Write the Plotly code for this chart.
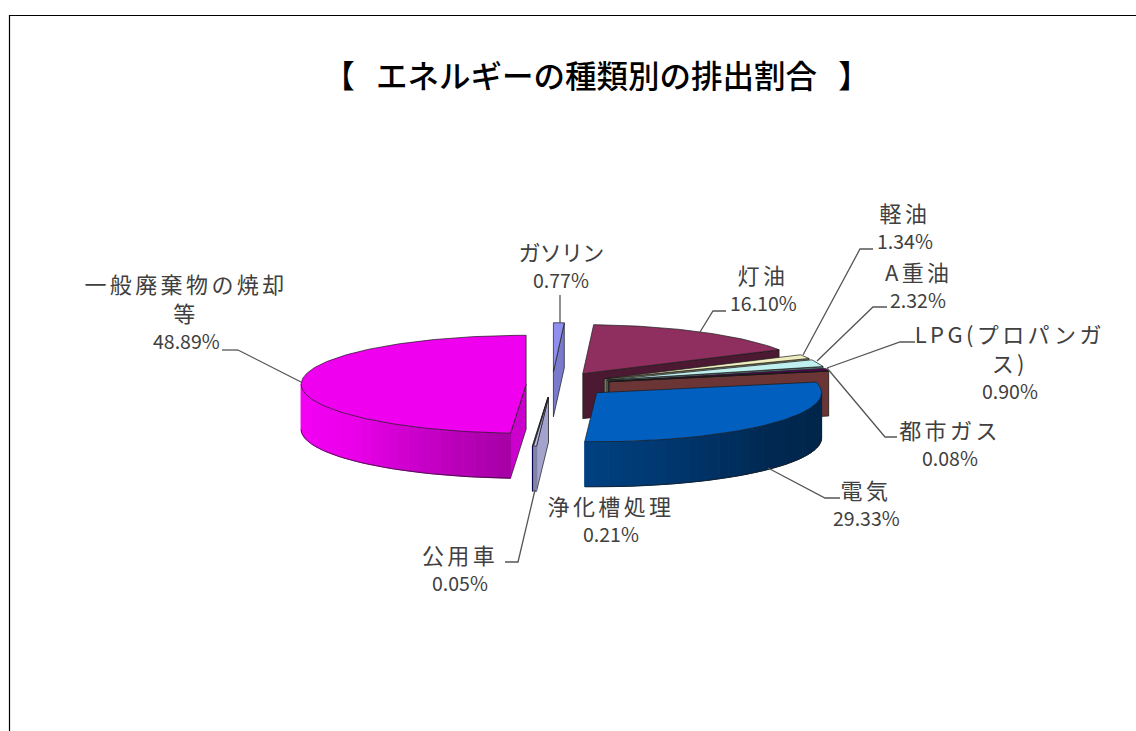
import numpy as np
import plotly.graph_objects as go

# ---- data (clockwise from 12 o'clock) ----
categories = ["ガソリン", "灯油", "軽油", "A重油", "LPG(プロパンガ<br>ス)", "都市ガス",
              "電気", "浄化槽処理", "公用車", "一般廃棄物の焼却<br>等"]
values = [0.77, 16.10, 1.34, 2.32, 0.90, 0.08, 29.33, 0.21, 0.05, 48.89]
colors = ["#9999FF", "#993366", "#FFFFCC", "#CCFFFF", "#660066", "#FF8080",
          "#0066CC", "#CCCCFF", "#000080", "#FF00FF"]
pull = [0.26, 0.26, 0.26, 0.26, 0.26, 0.26, 0.26, 0.26, 0.26, 0.115]
title_text = "【   エネルギーの種類別の排出割合   】"

# ---- layout constants (pixel-like axis units) ----
W, H = 1136, 731
CX, CY, RX, RY, DEPTH = 552, 384.5, 225, 49, 45
TOP_SHADE = 0.94
draw_order = [0, 1, 2, 3, 4, 5, 6, 8, 7, 9]
label_xy = [(561, 251), (763, 274), (905, 212), (918, 271), (1010, 333),
            (950, 429), (866, 489), (611, 505), (460, 554), (186, 283)]
LINE_STEP = 28.6
leaders = [
    [(560, 295), (560, 323)],
    [(726, 311), (713, 311), (700, 332)],
    [(873, 249), (860, 249), (803, 355)],
    [(887, 307), (873, 307), (817, 361)],
    [(915, 342), (900, 342), (827, 368)],
    [(897, 437), (885, 437), (827, 368)],
    [(840, 498), (825, 498), (768, 468)],
    [(505, 562), (518, 562), (535, 490)],
    [(238, 350), (222, 350)],
    [(238, 350), (301, 382)],
]

def shade(hex_color, s):
    r, g, b = [int(hex_color[i:i + 2], 16) for i in (1, 3, 5)]
    return f"rgb({int(r * s)},{int(g * s)},{int(b * s)})"

def wall_shade(t):
    return float(np.interp(t, [90, 130, 183, 230, 270], [0.36, 0.40, 0.64, 0.92, 0.97]))

def face_shade(t):
    return float(np.interp(t, [0, 3, 61, 77, 180, 184], [0.8, 0.8, 0.5, 0.42, 0.8, 0.8]))

fig = go.Figure()

def poly(xs, ys, fill, line=None, width=1.0):
    fig.add_trace(go.Scatter(
        x=list(xs), y=list(ys), mode="lines", fill="toself", fillcolor=fill,
        line=dict(color=line or fill, width=width), hoverinfo="skip", showlegend=False))

OUT = "#1a1a1a"
edges = np.concatenate([[0], np.cumsum(values)]) / sum(values) * 360
for i in draw_order:
    t0, t1 = edges[i], edges[i + 1]
    mid = np.radians((t0 + t1) / 2)
    ax = CX + pull[i] * RX * np.sin(mid)
    ay = CY - pull[i] * RY * np.cos(mid)
    px = lambda t: ax + RX * np.sin(np.radians(t))
    py = lambda t: ay - RY * np.cos(np.radians(t))

    # visible cut faces
    for t, visible in ((t1, np.sin(np.radians(t1)) > 0.001), (t0, np.sin(np.radians(t0)) < -0.001)):
        if visible:
            poly([ax, px(t), px(t), ax, ax],
                 [ay, py(t), py(t) + DEPTH, ay + DEPTH, ay],
                 shade(colors[i], face_shade(t)), OUT, 0.7)

    # outer wall, strips shaded along the angle
    w0, w1 = max(t0, 90), min(t1, 270)
    if w1 > w0:
        n = max(1, int((w1 - w0) / 3))
        ts = np.linspace(w0, w1, n + 1)
        for a, b in zip(ts[:-1], ts[1:]):
            poly([px(a), px(b), px(b), px(a), px(a)],
                 [py(a), py(b), py(b) + DEPTH, py(a) + DEPTH, py(a)],
                 shade(colors[i], wall_shade((a + b) / 2)))
        ts = np.linspace(w0, w1, n * 3 + 1)
        fig.add_trace(go.Scatter(
            x=[px(t) for t in ts], y=[py(t) + DEPTH for t in ts],
            mode="lines", line=dict(color=OUT, width=0.7), hoverinfo="skip", showlegend=False))

    # top surface
    ts = np.linspace(t0, t1, max(3, int(t1 - t0) + 2))
    poly([ax] + [px(t) for t in ts] + [ax], [ay] + [py(t) for t in ts] + [ay],
         shade(colors[i], TOP_SHADE), OUT, 0.7)

annotations = []
def text(x, y, s, size, color="#404040"):
    annotations.append(dict(x=x, y=y, text=s, showarrow=False, xanchor="center", yanchor="middle",
                            font=dict(size=size, color=color, family="Noto Sans CJK JP")))

for name, v, (lx, ly) in zip(categories, values, label_xy):
    n_lines = name.count("<br>") + 1
    text(lx, ly + (n_lines - 1) * 14.3, name, 22)
    text(lx, ly + n_lines * LINE_STEP, f"{v:.2f}%", 19.5)

shapes = [dict(type="path", xref="x", yref="y", path=f"M 9.5 {H + 5} L 9.5 15.5 L {W + 5} 15.5",
               line=dict(color="#000000", width=1.2))]
for pts in leaders:
    shapes.append(dict(type="path", xref="x", yref="y",
                       path="M " + " L ".join(f"{x} {y}" for x, y in pts),
                       line=dict(color="#555555", width=1.3)))

fig.update_layout(
    width=W, height=H, margin=dict(l=0, r=0, t=0, b=0, pad=0),
    paper_bgcolor="white", plot_bgcolor="white", showlegend=False,
    title=dict(text=title_text, x=596.5 / W, xanchor="center", y=1 - 77 / H, yanchor="middle",
               font=dict(size=31.5, color="#000000", family="Noto Sans CJK JP", weight=500)),
    xaxis=dict(range=[0, W], visible=False, fixedrange=True),
    yaxis=dict(range=[H, 0], visible=False, fixedrange=True),
    annotations=annotations, shapes=shapes,
)

post = """
document.body.style.margin='0';
document.querySelectorAll('.annotation-text').forEach(function(t){
  var s=t.textContent;
  if(/^[0-9]/.test(s)){ return; }
  t.style.letterSpacing = (s==='ガソリン') ? '-0.8px' : '3.4px';
});
"""
fig.write_html("out.html", post_script=post, config={"displayModeBar": False})
